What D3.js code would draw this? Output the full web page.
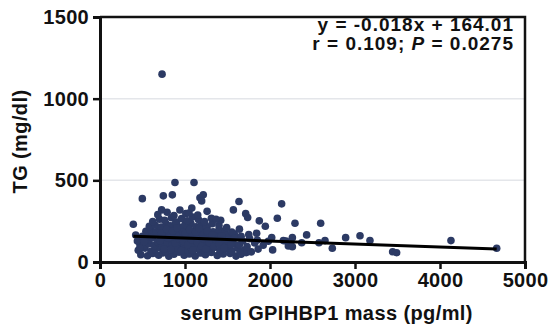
<!DOCTYPE html>
<html>
<head>
<meta charset="utf-8">
<script src="https://cdn.jsdelivr.net/npm/d3@7"></script>
<style>
  body { margin: 0; background: #fff; }
  svg text { font-family: "Liberation Sans", Arial, sans-serif; font-weight: bold; fill: #111; }
</style>
</head>
<body>
<figure id="scatter" style="margin:0"></figure>
<script>
// axis ticks
const xTicks = [0, 1000, 2000, 3000, 4000, 5000];
const yTicks = [0, 500, 1000, 1500];

// regression reported on the chart
const slope = -0.018, intercept = 164.01;
const statLines = ["y = -0.018x + 164.01", "r = 0.109; P = 0.0275"];

// serum GPIHBP1 mass (pg/ml) vs TG (mg/dl)
const bottomBand = [[480,45],[560,38],[620,52],[690,41],[740,56],[810,35],[870,48],[930,60],[990,42],[1050,50],[1120,37],[1180,55],[1240,44],[1310,58],[1380,40],[1450,49],[1530,53],[1600,36],[1660,47],[1720,57]];
const band60 = [[450,72],[530,85],[600,66],[650,78],[710,88],[770,63],[840,81],[900,70],[960,86],[1020,75],[1090,68],[1150,83],[1210,77],[1270,64],[1340,89],[1410,71],[1480,80],[1550,67],[1620,84],[1700,73],[1780,62],[1860,79]];
const band90 = [[470,105],[520,96],[580,112],[640,101],[690,118],[750,93],[800,108],[860,115],[920,99],[980,110],[1040,104],[1100,117],[1160,95],[1220,113],[1290,102],[1350,107],[1420,119],[1490,98],[1570,111],[1640,106],[1730,94],[1820,116],[1920,103]];
const band120 = [[440,128],[510,141],[570,133],[620,147],[680,124],[730,138],[790,150],[850,130],[900,144],[960,126],[1010,139],[1070,148],[1130,122],[1190,135],[1250,146],[1310,131],[1380,142],[1450,125],[1520,137],[1590,149],[1680,129],[1760,143],[1850,134],[1980,127]];
const band150 = [[420,165],[500,158],[560,172],[610,155],[660,178],[710,162],[760,169],[820,152],[880,175],[940,160],[1000,167],[1060,179],[1110,156],[1170,171],[1230,163],[1290,153],[1360,177],[1430,166],[1510,159],[1580,173],[1660,157],[1750,168]];
const band180 = [[540,188],[600,195],[660,183],[700,202],[750,191],[800,207],[860,186],[910,198],[970,193],[1030,205],[1080,181],[1140,196],[1200,189],[1260,208],[1330,185],[1400,199],[1470,192],[1550,184],[1640,201]];
const band210 = [[580,218],[650,225],[720,214],[780,233],[830,221],[890,238],[950,212],[1000,229],[1070,236],[1130,216],[1190,227],[1250,219],[1320,234],[1400,223],[1490,211]];
const band240 = [[620,248],[700,262],[760,255],[840,271],[900,244],[960,266],[1030,252],[1090,275],[1160,259],[1230,247],[1310,268],[1420,256]];
const band280 = [[680,290],[790,305],[870,285],[940,318],[1010,296],[1080,330],[1150,288],[1260,310]];
const core = [[735,95],[765,140],[790,118],[815,170],[845,102],[870,135],[895,88],[925,160],[945,122],[975,185],[995,97],[1015,150],[1045,128],[1065,92],[1085,168],[1105,112],[1135,145],[1155,83],[1175,130],[1205,174],[1225,108],[1255,155],[1275,90],[1300,138],[705,130],[725,175],[755,80],[785,200],[805,145],[835,76],[855,190],[885,115],[905,210],[935,140],[955,70],[985,125],[1005,178],[1035,104],[1055,198],[1075,136],[1095,74],[1125,182],[1145,118],[1165,205],[1195,96],[1215,142],[1245,79],[1265,188],[1285,120],[1320,165],[1340,95],[1370,135],[1400,110],[1430,160],[1460,88],[1500,130],[1540,105],[1580,145]];
const sparse = [[730,1150],[882,487],[1106,487],[498,388],[745,405],[851,411],[1176,393],[1215,411],[1196,374],[392,231],[725,319],[1047,300],[1635,370],[2137,356],[1569,319],[1714,296],[1737,272],[1874,252],[1945,219],[2086,268],[2020,150],[2031,74],[2216,98],[470,84],[522,125],[1365,262],[1843,176],[2188,129],[1647,53],[2294,237],[2596,237],[2157,131],[2263,149],[2263,94],[2373,118],[2431,166],[2576,118],[2647,131],[2733,84],[2890,149],[3059,161],[3176,131],[3443,63],[3490,57],[4129,131],[4667,84]];

const points = [].concat(bottomBand, band60, band90, band120, band150, band180, band210, band240, band280, core, sparse);

const margin = {top: 17, right: 30, bottom: 63, left: 100},
  width = 555 - margin.left - margin.right,
  height = 325 - margin.top - margin.bottom;

const svg = d3.select("figure#scatter")
  .append("svg")
  .attr("width", 555)
  .attr("height", 325)
  .append("g")
  .attr("transform", "translate(" + margin.left + "," + margin.top + ")");

const x = d3.scaleLinear().domain([0, 5000]).range([0, width]);
const y = d3.scaleLinear().domain([0, 1500]).range([height, 0]);

// light gridlines
svg.append("g")
  .selectAll("line")
  .data([500, 1000])
  .join("line")
  .attr("x1", 0).attr("x2", width)
  .attr("y1", d => y(d)).attr("y2", d => y(d))
  .attr("stroke", "#e4e6ea")
  .attr("stroke-width", 1.5);

// frame (top and right)
svg.append("path")
  .attr("d", `M0,${y(1500)}H${x(5000)}V${y(0)}`)
  .attr("fill", "none")
  .attr("stroke", "#111")
  .attr("stroke-width", 2.5);

// points
svg.append("g")
  .selectAll("circle")
  .data(points)
  .join("circle")
  .attr("cx", d => x(d[0]))
  .attr("cy", d => y(d[1]))
  .attr("r", 3.8)
  .attr("fill", "#2c3a64");

// regression line across the data range
const xr = d3.extent(points, d => d[0]);
svg.append("line")
  .attr("x1", x(xr[0])).attr("y1", y(slope * xr[0] + intercept))
  .attr("x2", x(xr[1])).attr("y2", y(slope * xr[1] + intercept))
  .attr("stroke", "#000")
  .attr("stroke-width", 3);

// axes
const xAxis = svg.append("g")
  .attr("transform", `translate(0,${height})`)
  .call(d3.axisBottom(x).tickValues(xTicks).tickSize(7).tickPadding(4).tickFormat(d3.format("d")));
const yAxis = svg.append("g")
  .call(d3.axisLeft(y).tickValues(yTicks).tickSize(7).tickPadding(4).tickFormat(d3.format("d")));

[xAxis, yAxis].forEach(a => {
  a.select(".domain").attr("stroke", "#111").attr("stroke-width", 3);
  a.selectAll(".tick line").attr("stroke", "#111").attr("stroke-width", 2.5);
  a.selectAll(".tick text").style("font-size", "20px").style("letter-spacing", "0.3px").attr("fill", "#111");
});

// axis titles
svg.append("text")
  .attr("x", x(2500) + 14)
  .attr("y", height + 58)
  .attr("text-anchor", "middle")
  .style("font-size", "20px")
  .style("letter-spacing", "0.4px")
  .text("serum GPIHBP1 mass (pg/ml)");

svg.append("text")
  .attr("transform", `translate(-73,${height / 2 + 2}) rotate(-90)`)
  .attr("text-anchor", "middle")
  .style("font-size", "20px")
  .style("letter-spacing", "0.4px")
  .text("TG (mg/dl)");

// regression stats
const stats = svg.append("text")
  .attr("text-anchor", "end")
  .style("font-size", "19px")
  .style("letter-spacing", "1px");
stats.append("tspan").attr("x", width - 11).attr("y", 14).text(statLines[0]);
const l2 = stats.append("tspan").attr("x", width - 11).attr("y", 33);
l2.append("tspan").text("r = 0.109; ");
l2.append("tspan").style("font-style", "italic").text("P");
l2.append("tspan").text(" = 0.0275");
</script>
</body>
</html>
